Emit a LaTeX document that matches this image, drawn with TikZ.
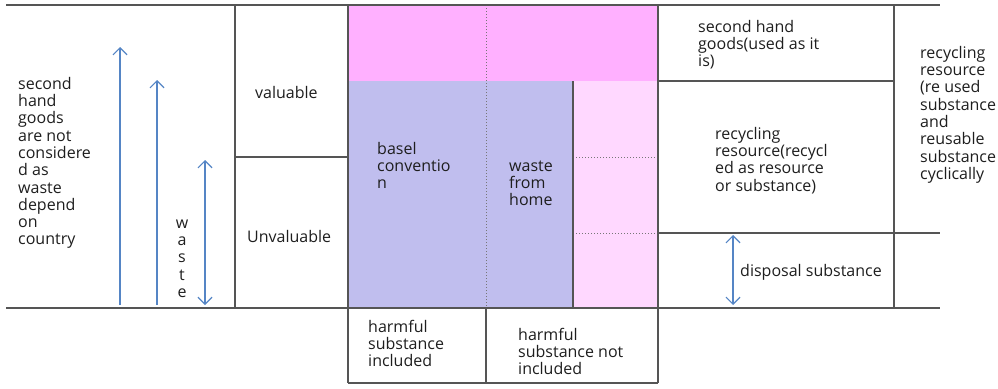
\documentclass[tikz,border=0pt]{standalone}
\usepackage{fontspec}
\setmainfont{Open Sans}
\usetikzlibrary{arrows.meta}
\definecolor{gridc}{HTML}{555555}
\definecolor{txtc}{HTML}{1E1E1E}
\definecolor{pinkA}{HTML}{FFB0FF}
\definecolor{blueA}{HTML}{C0BEEE}
\definecolor{pinkB}{HTML}{FFD8FF}
\definecolor{arrc}{HTML}{5585C5}
\newcommand{\fl}{\rule{0pt}{13pt}}
\tikzset{
  gridline/.style={draw=gridc, line width=1.3pt},
  dotline/.style={draw=gridc!80, line width=1pt, dash pattern=on 1pt off 2pt},
  lbl/.style={anchor=north west, inner sep=0pt, align=left, text=txtc,
              font=\fontsize{16}{17.3}\selectfont},
  upar/.style={draw=arrc, line width=1.2pt, -{Straight Barb[length=7pt,width=14pt]}},
  dblar/.style={draw=arrc, line width=1.2pt, {Straight Barb[length=7pt,width=14pt]}-{Straight Barb[length=7pt,width=14pt]}}
}
\begin{document}
\begin{tikzpicture}[x=1pt,y=-1pt]
\useasboundingbox (0,0) rectangle (998,388);
% fills
\fill[pinkA] (348,5) rectangle (658,81);
\fill[blueA] (348,81) rectangle (573,308);
\fill[pinkB] (573,81) rectangle (658,308);
% dotted lines
\draw[dotline] (486,5) -- (486,308);
\draw[dotline] (573,157) -- (658,157);
\draw[dotline] (573,233) -- (658,233);
% grid lines
\draw[gridline] (6,5) -- (940,5);
\draw[gridline] (6,308) -- (940,308);
\draw[gridline] (235,5) -- (235,308);
\draw[gridline] (235,157) -- (348,157);
\draw[gridline] (348,5) -- (348,383);
\draw[gridline] (658,5) -- (658,383);
\draw[gridline] (348,383) -- (658,383);
\draw[gridline] (486,308) -- (486,383);
\draw[gridline] (573,81) -- (573,308);
\draw[gridline] (658,81) -- (894,81);
\draw[gridline] (658,233) -- (940,233);
\draw[gridline] (894,5) -- (894,308);
% arrows
\coordinate (a1s) at (120,305); \coordinate (a1e) at (120,47);
\coordinate (a2s) at (157,305); \coordinate (a2e) at (157,80);
\coordinate (a3s) at (205,160); \coordinate (a3e) at (205,305);
\coordinate (a4s) at (733,235); \coordinate (a4e) at (733,305);
\draw[upar] (a1s) -- (a1e);
\draw[upar] (a2s) -- (a2e);
\draw[dblar] (a3s) -- (a3e);
\draw[dblar] (a4s) -- (a4e);
% texts
\node[lbl] (tleft) at (18,89-13) {\fl second\\hand\\goods\\are not\\considere\\d as\\waste\\depend\\on\\country};
\node[lbl, align=center, anchor=north] (twaste) at (182,228-13) {\fl w\\a\\s\\t\\e};
\node[lbl] (tval) at (255,98-13) {\fl valuable};
\node[lbl] (tunval) at (247,242-13) {\fl Unvaluable};
\node[lbl] (tbasel) at (377,154-13) {\fl basel\\conventio\\n};
\node[lbl] (thome) at (509,171-13) {\fl waste\\from\\home};
\node[lbl] (tharm) at (368,332-13) {\fl harmful\\substance\\included};
\node[lbl] (tnharm) at (518,340-13) {\fl harmful\\substance not\\included};
\node[lbl] (tsecond) at (698,32-13) {\fl second hand\\goods(used as it\\is)};
\node[lbl] (trecyc) at (715,139-13) {\fl recycling\\resource(recycl\\ed as resource\\or substance)};
\node[lbl] (tdisp) at (740,276-13) {\fl disposal substance};
\node[lbl] (tright) at (920,58-13) {\fl recycling\\resource\\(re used\\substance\\and\\reusable\\substance\\cyclically};
\end{tikzpicture}
\end{document}
